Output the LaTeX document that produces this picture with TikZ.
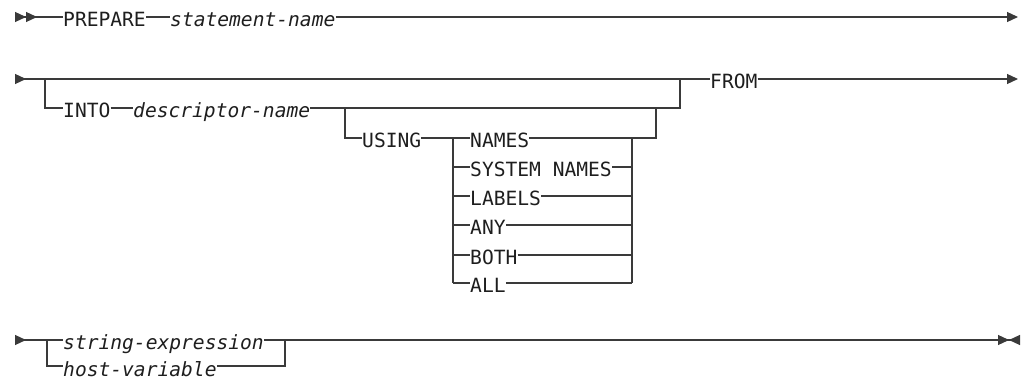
\documentclass[tikz,border=0pt]{standalone}
\usepackage{fontspec}
\setmonofont{DejaVu Sans Mono}
\usepackage{xcolor}
\usetikzlibrary{arrows.meta}
\definecolor{ink}{HTML}{1E1E1E}
\definecolor{railgray}{HTML}{3A3A3A}
\tikzset{
  kw/.style       = {anchor=west, inner sep=0pt, text height=20pt, text depth=0pt,
                     font=\fontsize{19.6}{20}\selectfont\ttfamily, text=ink},
  var/.style      = {kw, font=\fontsize{19.6}{20}\selectfont\ttfamily\itshape},
  railline/.style = {draw=railgray, line width=1.2pt},
  tipR/.style     = {-{Triangle[length=11pt,width=10pt]}, railline},
  startone/.style = {{Triangle[reversed,length=11pt,width=10pt]}-, railline},
  starttwo/.style = {{Triangle[reversed,length=11pt,width=10pt]Triangle[reversed,length=11pt,width=10pt]}-, railline},
  stopmark/.style = {-{Triangle[length=11pt,width=10pt]Triangle[reversed,length=11pt,width=10pt]}, railline},
}

\begin{document}
\begin{tikzpicture}[x=1pt, y=1pt]
  \useasboundingbox (0,0) rectangle (1023,-379);

  % first line
  \coordinate (r1s) at (15,-17);
  \coordinate (r1e) at (1018,-17);
  \node[kw] (prep) at (63,-17) {PREPARE};
  \node[var] (stmt) at (170,-17) {statement-name};
  \draw[starttwo] (r1s) -- (prep);
  \draw[railline] (prep) -- (stmt);
  \draw[tipR] (stmt) -- (r1e);

  % second line
  \coordinate (r2s) at (15,-79);
  \coordinate (intoj) at (45,-79);
  \coordinate (intok) at (680,-79);
  \coordinate (r2e) at (1018,-79);
  \node[kw] (from) at (710,-79) {FROM};
  \draw[startone] (r2s) -- (from);
  \draw[tipR] (from) -- (r2e);

  \node[kw] (into) at (63,-108) {INTO};
  \node[var] (descr) at (133,-108) {descriptor-name};
  \draw[railline] (intoj) |- (into);
  \draw[railline] (into) -- (descr);
  \draw[railline] (descr) -| (intok);

  \coordinate (usej) at (345,-108);
  \coordinate (usek) at (656,-108);
  \node[kw] (using) at (362,-138) {USING};
  \draw[railline] (usej) |- (using);
  \draw[railline] (using) -- (453,-138) coordinate (names-l);

  \foreach \nm/\txt/\yy in {names/NAMES/138, sysnames/SYSTEM NAMES/167, labels/LABELS/196,
                            any/ANY/225, both/BOTH/255, all/ALL/283} {
    \coordinate (\nm-l) at (453,-\yy);
    \coordinate (\nm-r) at (632,-\yy);
    \node[kw] (\nm) at (470,-\yy) {\txt};
    \draw[railline] (\nm-l) -- (\nm);
    \draw[railline] (\nm) -- (\nm-r);
  }
  \draw[railline] (names-l) -- (all-l);
  \draw[railline] (names-r) -- (all-r);
  \draw[railline] (names-r) -| (usek);

  % third line
  \coordinate (r3s) at (15,-340);
  \coordinate (strj) at (47,-340);
  \coordinate (strk) at (285,-340);
  \coordinate (r3e) at (1020,-340);
  \node[var] (strx) at (63,-340) {string-expression};
  \node[var] (hostv) at (63,-366) {host-variable};
  \draw[startone] (r3s) -- (strx);
  \draw[railline] (strj) |- (hostv);
  \draw[railline] (hostv) -| (strk);
  \draw[stopmark] (strx) -- (r3e);
\end{tikzpicture}
\end{document}
